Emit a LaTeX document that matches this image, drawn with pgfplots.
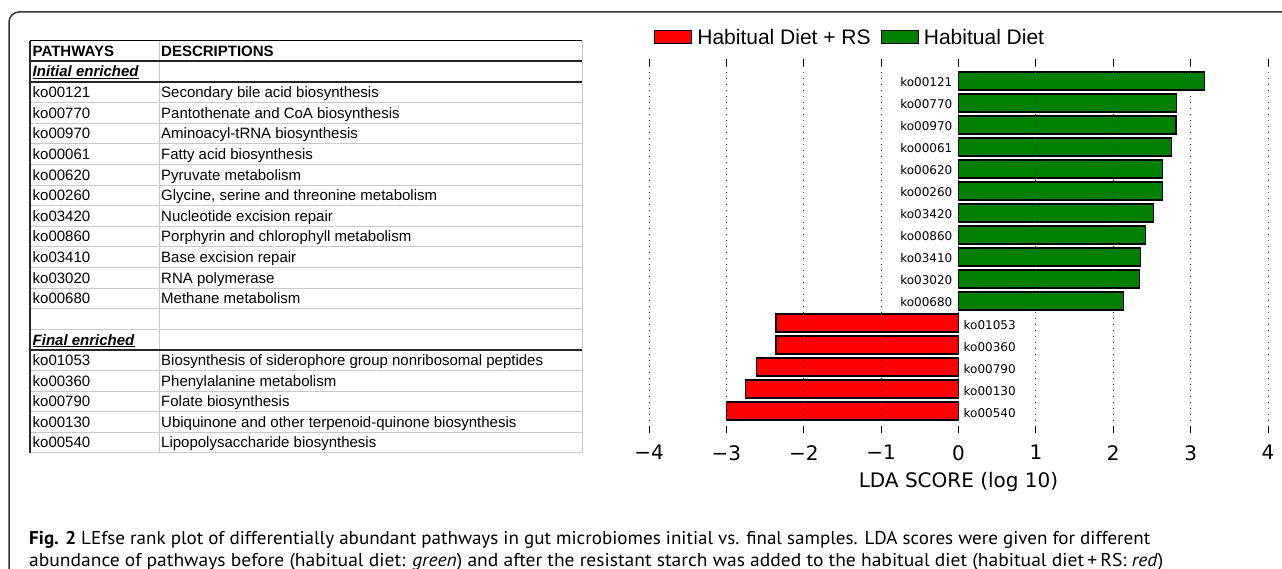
\documentclass[border=0pt]{standalone}
\usepackage{fontspec}
\setmainfont{Liberation Sans}
\newfontfamily\dv{DejaVu Sans}
\newfontfamily\ls{Liberation Sans}
\newfontfamily\capfont{PT Sans}
\usepackage{graphicx}
\usepackage{pgfplots}
\pgfplotsset{compat=1.18}
\definecolor{ldagreen}{RGB}{0,128,0}
\definecolor{ldared}{RGB}{255,0,0}
\definecolor{tgray}{RGB}{200,200,200}
\begin{document}
\begin{tikzpicture}
\useasboundingbox (0,0) rectangle (1282pt,-569pt);
% frame
\draw[line width=1.5pt, black!80] (9pt,-569pt) -- (9pt,-22pt) arc[start angle=180, end angle=90, radius=10pt] -- (1290pt,-12pt);
% ---------- table ----------
\foreach \k in {1,...,11} {\draw[tgray, line width=0.8pt] (30pt,{-(82+20.6*\k)*1pt}) -- (582pt,{-(82+20.6*\k)*1pt});}
\draw[tgray, line width=0.8pt] (30pt,-329.2pt) -- (582pt,-329.2pt);
\foreach \k in {1,...,5} {\draw[tgray, line width=0.8pt] (30pt,{-(349.8+20.6*\k)*1pt}) -- (582pt,{-(349.8+20.6*\k)*1pt});}
\draw[tgray, line width=0.8pt] (159pt,-41pt) -- (159pt,-453pt);
\draw[tgray, line width=0.8pt] (582pt,-41pt) -- (582pt,-453pt);
\draw[black, line width=1pt] (30pt,-41pt) -- (582pt,-41pt);
\draw[black!85, line width=1.6pt] (30pt,-61pt) -- (582pt,-61pt);
\draw[black!85, line width=1.6pt] (30pt,-82pt) -- (582pt,-82pt);
\draw[black!85, line width=1.6pt] (30pt,-349.8pt) -- (582pt,-349.8pt);
\draw[black!85, line width=1.4pt] (30pt,-41pt) -- (30pt,-453pt);
\begin{scope}[every node/.style={anchor=base west, inner sep=0pt, font=\ls\fontsize{15}{18}\selectfont}]
\node at (32.5pt,-57pt) {\textbf{PATHWAYS}};
\node at (161pt,-57pt) {\textbf{DESCRIPTIONS}};
\node at (32.5pt,-77pt) {\underline{\textbf{\textit{Initial enriched}}}};
\node at (32.5pt,-345pt) {\underline{\textbf{\textit{Final enriched}}}};
\foreach \a/\b [count=\i from 0] in {ko00121/Secondary bile acid biosynthesis, ko00770/Pantothenate and CoA biosynthesis, ko00970/Aminoacyl-tRNA biosynthesis, ko00061/Fatty acid biosynthesis, ko00620/Pyruvate metabolism, ko00260/{Glycine, serine and threonine metabolism}, ko03420/Nucleotide excision repair, ko00860/Porphyrin and chlorophyll metabolism, ko03410/Base excision repair, ko03020/RNA polymerase, ko00680/Methane metabolism} {
  \node at (32.5pt,{-(97.7+20.6*\i)*1pt}) {\a};
  \node at (161pt,{-(97.7+20.6*\i)*1pt}) {\b};
}
\foreach \a/\b [count=\i from 0] in {ko01053/Biosynthesis of siderophore group nonribosomal peptides, ko00360/Phenylalanine metabolism, ko00790/Folate biosynthesis, ko00130/Ubiquinone and other terpenoid-quinone biosynthesis, ko00540/Lipopolysaccharide biosynthesis} {
  \node at (32.5pt,{-(365.5+20.6*\i)*1pt}) {\a};
  \node at (161pt,{-(365.5+20.6*\i)*1pt}) {\b};
}
\end{scope}
% ---------- chart ----------
\begin{axis}[
  at={(649pt,-433pt)}, anchor=south west,
  width=619pt, height=374pt, scale only axis,
  xmin=-4, xmax=4, ymin=-1, ymax=16,
  xtick={-4,-3,-2,-1,0,1,2,3,4},
  xticklabels={−4,−3,−2,−1,0,1,2,3,4},
  ytick=\empty,
  tick align=inside,
  major tick length=7pt,
  tick style={black, line width=1pt},
  axis line style={draw=none},
  xmajorgrids,
  grid style={black!75, line width=0.8pt, dash pattern=on 1.2pt off 4.8pt},
  axis on top,
  clip=false,
  xticklabel style={font=\dv\fontsize{20}{24}\selectfont, inner sep=0pt, yshift=-12pt},
  xlabel={LDA SCORE (log 10)},
  xlabel style={at={(axis description cs:0.5,0)}, anchor=north, yshift=-39pt, inner sep=0pt, font=\dv\fontsize{20}{24}\selectfont},
  legend columns=2,
  legend style={at={(axis description cs:0.008,1.0575)}, anchor=west, draw=none, fill=none, inner sep=0pt,
    font=\ls\fontsize{21}{25}\selectfont,
    nodes={inner sep=0pt, anchor=base west},
    /tikz/every odd column/.append style={column sep=5pt},
    /tikz/every even column/.append style={column sep=10pt}},
  lbox/.style={legend image code/.code={\draw[##1, line width=1.2pt] (0pt,1pt) rectangle (37pt,14pt);}},
]
\addplot[xbar, bar width=18pt, bar shift=0pt, fill=ldared, draw=black, line width=1.3pt, lbox] coordinates {
 (-2.36,4) (-2.36,3) (-2.61,2) (-2.75,1) (-3.00,0)};
\addlegendentry{Habitual Diet + RS}
\addplot[xbar, bar width=18pt, bar shift=0pt, fill=ldagreen, draw=black, line width=1.3pt, lbox] coordinates {
 (3.18,15) (2.82,14) (2.81,13) (2.75,12) (2.64,11) (2.64,10) (2.52,9) (2.42,8) (2.35,7) (2.34,6) (2.13,5)};
\addlegendentry{Habitual Diet}
\addplot[forget plot, only marks, mark=*, mark size=0pt, mark options={draw=none, fill=none},
  nodes near coords, point meta=explicit symbolic,
  every node near coord/.append style={anchor=east, text=black, inner sep=0pt, xshift=-6pt, yshift=-1.5pt, font=\dv\fontsize{12}{14}\selectfont}]
  table[x=x, y=y, meta=lab] {
x y lab
0 15 ko00121
0 14 ko00770
0 13 ko00970
0 12 ko00061
0 11 ko00620
0 10 ko00260
0 9 ko03420
0 8 ko00860
0 7 ko03410
0 6 ko03020
0 5 ko00680
};
\addplot[forget plot, only marks, mark=*, mark size=0pt, mark options={draw=none, fill=none},
  nodes near coords, point meta=explicit symbolic,
  every node near coord/.append style={anchor=west, text=black, inner sep=0pt, xshift=5pt, yshift=-2.5pt, font=\dv\fontsize{12}{14}\selectfont}]
  table[x=x, y=y, meta=lab] {
x y lab
0 4 ko01053
0 3 ko00360
0 2 ko00790
0 1 ko00130
0 0 ko00540
};
\end{axis}
% ---------- caption ----------
\node[anchor=base west, inner sep=0pt] at (29pt,-544pt) {\resizebox{1121pt}{\height}{\capfont\fontsize{18.5}{22}\selectfont \textbf{Fig. 2} LEfse rank plot of differentially abundant pathways in gut microbiomes initial vs. final samples. LDA scores were given for different}};
\node[anchor=base west, inner sep=0pt] at (29pt,-566pt) {\resizebox{1134pt}{\height}{\capfont\fontsize{18.5}{22}\selectfont abundance of pathways before (habitual diet: \textit{green}) and after the resistant starch was added to the habitual diet (habitual diet\,+\,RS: \textit{red})}};
\end{tikzpicture}
\end{document}
